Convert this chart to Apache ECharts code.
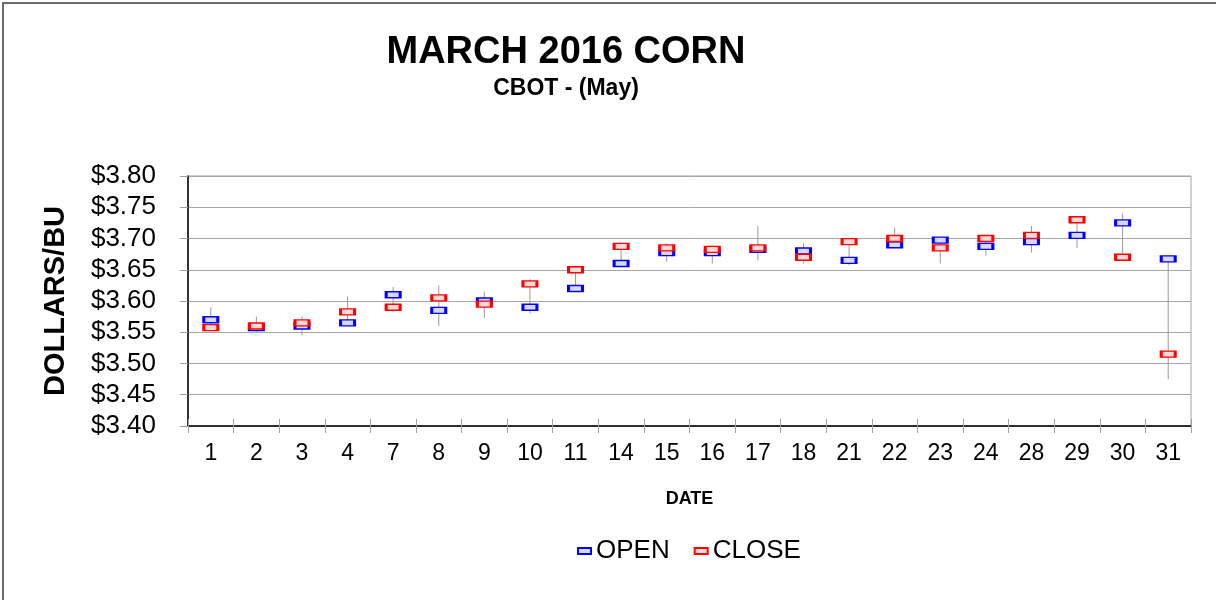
<!DOCTYPE html>
<html>
<head>
<meta charset="utf-8">
<script src="https://cdn.jsdelivr.net/npm/echarts@6/dist/echarts.min.js"></script>
<style>
  html, body { margin: 0; padding: 0; background: #fff; }
  #root { width: 1216px; height: 600px; }
</style>
</head>
<body>
<div id="root"></div>
<script>
// trading days of March 2016
var dates = ['1', '2', '3', '4', '7', '8', '9', '10', '11', '14', '15', '16', '17', '18', '21', '22', '23', '24', '28', '29', '30', '31'];
var openPrice  = [3.570, 3.5575, 3.560, 3.565, 3.610, 3.585, 3.600, 3.590, 3.620, 3.660, 3.6775, 3.6775, 3.6825, 3.680, 3.665, 3.690, 3.6975, 3.6875, 3.695, 3.705, 3.725, 3.6675];
var closePrice = [3.5575, 3.560, 3.565, 3.5825, 3.590, 3.605, 3.595, 3.6275, 3.650, 3.6875, 3.685, 3.6825, 3.685, 3.670, 3.695, 3.700, 3.685, 3.700, 3.705, 3.730, 3.670, 3.515];
var highPrice  = [3.590, 3.575, 3.575, 3.6075, 3.6225, 3.625, 3.615, 3.635, 3.650, 3.6925, 3.6925, 3.6825, 3.720, 3.6925, 3.700, 3.7175, 3.6975, 3.700, 3.720, 3.730, 3.740, 3.6725];
var lowPrice   = [3.5575, 3.550, 3.545, 3.560, 3.5825, 3.560, 3.5725, 3.580, 3.620, 3.655, 3.6625, 3.660, 3.665, 3.660, 3.6575, 3.690, 3.660, 3.6725, 3.6775, 3.685, 3.670, 3.475];
var yTicks = [3.40, 3.45, 3.50, 3.55, 3.60, 3.65, 3.70, 3.75, 3.80];

var FONT = '"Liberation Sans", Arial, sans-serif';

var myChart = echarts.init(document.getElementById('root'));

var hiLo = dates.map(function (d, i) { return [i, highPrice[i], lowPrice[i]]; });

myChart.setOption({
  animation: false,
  textStyle: { fontFamily: FONT },
  graphic: [
    // outer chart frame
    { type: 'rect', shape: { x: 3, y: 3, width: 1230, height: 620 },
      style: { fill: 'none', stroke: '#6b6b6b', lineWidth: 2 }, silent: true },
    { type: 'text', x: 566, y: 53,
      style: { text: 'MARCH 2016 CORN', font: 'bold 38px ' + FONT, fill: '#000', textAlign: 'center', textVerticalAlign: 'middle' } },
    { type: 'text', x: 566, y: 89,
      style: { text: 'CBOT - (May)', font: 'bold 23px ' + FONT, fill: '#000', textAlign: 'center', textVerticalAlign: 'middle' } }
  ],
  grid: {
    left: 188, right: 25, top: 176, bottom: 174,
    show: true, borderColor: '#a0a0a0', borderWidth: 1
  },
  legend: {
    bottom: 31, left: 572,
    itemWidth: 13, itemHeight: 6, itemGap: 24,
    textStyle: { fontSize: 26, color: '#000', fontFamily: FONT },
    data: ['OPEN', 'CLOSE']
  },
  xAxis: [{
    type: 'category',
    data: dates,
    name: 'DATE',
    nameLocation: 'middle',
    nameGap: 64,
    nameTextStyle: { fontSize: 18, fontWeight: 'bold', color: '#000' },
    axisLine: { lineStyle: { color: '#000', width: 1.5 } },
    axisTick: { show: true, length: 7, lineStyle: { color: '#a0a0a0' } },
    axisLabel: { fontSize: 23, color: '#000', margin: 16 },
    splitLine: { show: false }
  }, {
    // inner half of the crossing tick marks
    type: 'category',
    data: dates,
    position: 'bottom',
    axisLine: { show: false },
    axisTick: { show: true, inside: true, length: 7, lineStyle: { color: '#a0a0a0' } },
    axisLabel: { show: false },
    splitLine: { show: false }
  }],
  yAxis: {
    type: 'value',
    min: 3.40, max: 3.80, interval: 0.05,
    name: 'DOLLARS/BU',
    nameLocation: 'middle',
    nameGap: 118,
    nameTextStyle: { fontSize: 29, fontWeight: 'bold', color: '#000' },
    axisLine: { show: true, lineStyle: { color: '#000', width: 1.5 } },
    axisTick: { show: true, length: 8, lineStyle: { color: '#a0a0a0' } },
    axisLabel: {
      fontSize: 26, color: '#000', margin: 32,
      formatter: function (v) { return '$' + v.toFixed(2); }
    },
    splitLine: { lineStyle: { color: '#a6a6a6', width: 1 } }
  },
  series: [
    {
      name: 'HiLo',
      type: 'custom',
      data: hiLo,
      encode: { x: 0, y: [1, 2] },
      z: 1,
      renderItem: function (params, api) {
        var hi = api.coord([api.value(0), api.value(1)]);
        var lo = api.coord([api.value(0), api.value(2)]);
        return {
          type: 'line',
          shape: { x1: hi[0], y1: hi[1], x2: lo[0], y2: lo[1] },
          style: { stroke: '#999', lineWidth: 1 }
        };
      }
    },
    {
      name: 'OPEN',
      type: 'scatter',
      data: openPrice,
      symbol: 'rect',
      symbolSize: [14, 6],
      z: 3,
      itemStyle: { color: '#d8d8ff', borderColor: '#0000ff', borderWidth: 2, opacity: 1 }
    },
    {
      name: 'CLOSE',
      type: 'scatter',
      data: closePrice,
      symbol: 'rect',
      symbolSize: [14, 6],
      z: 4,
      itemStyle: { color: '#ffd8d8', borderColor: '#ff0000', borderWidth: 2, opacity: 1 }
    }
  ]
});
</script>
</body>
</html>
